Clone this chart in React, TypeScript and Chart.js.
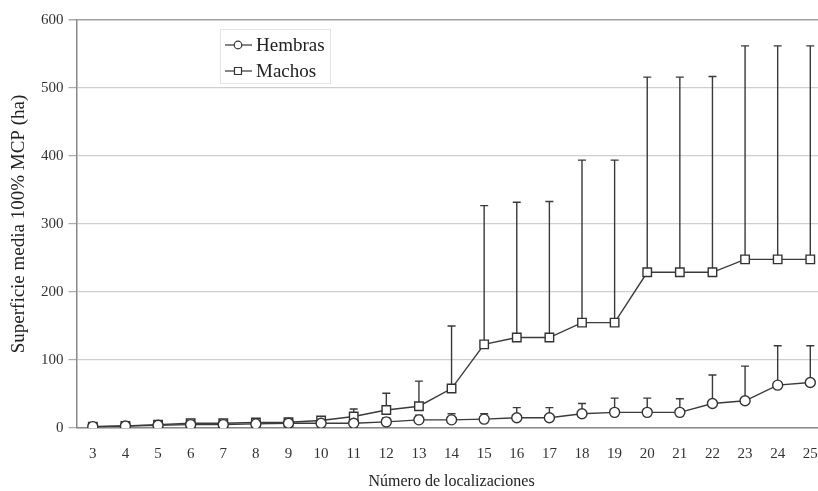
import React, { useEffect, useRef } from "react";
import { Chart, registerables } from "chart.js";

Chart.register(...registerables);

const categories = ["3","4","5","6","7","8","9","10","11","12","13","14","15","16","17","18","19","20","21","22","23","24","25"];
const hembrasMean = [2, 3, 4, 5, 5, 6, 7, 7, 7, 9, 12, 12, 13, 15, 15, 21, 23, 23, 23, 36, 40, 63, 67];
const hembrasUpper = [3, 4, 6, 8, 8, 9, 10, 10, 11, 15, 19, 21, 21, 30, 30, 36, 44, 44, 43, 78, 91, 121, 121];
const machosMean = [2, 3, 5, 7, 7, 8, 8.5, 11, 17, 26.5, 32, 58, 123, 133, 133, 155, 155, 229, 229, 229, 248, 248, 248];
const machosUpper = [3, 4, 7, 9, 9, 10, 11, 14, 28, 51, 69, 150, 327, 332, 333, 394, 394, 516, 516, 517, 562, 562, 562];
const seriesNames = ["Hembras", "Machos"];
const yTitle = "Superficie media 100% MCP (ha)";
const xTitle = "Número de localizaciones";

const FONT = "'Liberation Serif', 'DejaVu Serif', serif";

const errorBarPlugin = {
  id: "errorBars",
  beforeDatasetsDraw(chart: any) {
    const ctx = chart.ctx;
    const x = chart.scales.x;
    const y = chart.scales.y;
    const uppers = [hembrasUpper, machosUpper];
    const means = [hembrasMean, machosMean];
    ctx.save();
    ctx.strokeStyle = "#3a3a3a";
    ctx.lineWidth = 1.4;
    uppers.forEach((up, s) => {
      up.forEach((u, i) => {
        const px = x.getPixelForValue(i);
        const py0 = y.getPixelForValue(means[s][i]);
        const py1 = y.getPixelForValue(u);
        ctx.beginPath();
        ctx.moveTo(px, py0);
        ctx.lineTo(px, py1);
        ctx.moveTo(px - 4, py1);
        ctx.lineTo(px + 4, py1);
        ctx.stroke();
      });
    });
    ctx.restore();
  },
};

const legendPlugin = {
  id: "customLegend",
  afterDraw(chart: any) {
    const ctx = chart.ctx;
    const a = chart.chartArea;
    const bx = a.left + 143.5;
    const by = a.top + 9;
    ctx.save();
    ctx.fillStyle = "#ffffff";
    ctx.fillRect(bx, by, 110, 54);
    ctx.strokeStyle = "#e4e4e4";
    ctx.lineWidth = 1;
    ctx.strokeRect(bx + 0.5, by + 0.5, 110, 54);
    const styles = ["circle", "rect"];
    seriesNames.forEach((name, i) => {
      const cy = by + 16 + i * 26;
      const lx = bx + 5;
      ctx.strokeStyle = "#333";
      ctx.lineWidth = 1.2;
      ctx.beginPath();
      ctx.moveTo(lx, cy);
      ctx.lineTo(lx + 27, cy);
      ctx.stroke();
      ctx.fillStyle = "#fff";
      ctx.beginPath();
      if (styles[i] === "circle") {
        ctx.arc(lx + 13, cy, 3.8, 0, Math.PI * 2);
      } else {
        ctx.rect(lx + 9.5, cy - 3.5, 7, 7);
      }
      ctx.fill();
      ctx.stroke();
      ctx.fillStyle = "#222";
      ctx.font = "19px " + FONT;
      ctx.textBaseline = "middle";
      ctx.textAlign = "left";
      ctx.fillText(name, lx + 31, cy + 1);
    });
    ctx.restore();
  },
};

export default function App() {
  const ref = useRef<HTMLCanvasElement>(null);
  useEffect(() => {
    if (!ref.current) return;
    const chart = new Chart(ref.current, {
      type: "line",
      data: {
        labels: categories,
        datasets: [
          {
            label: seriesNames[0],
            data: hembrasMean,
            borderColor: "#3a3a3a",
            borderWidth: 1.4,
            pointStyle: "circle",
            pointRadius: 5,
            pointBackgroundColor: "#fff",
            pointBorderColor: "#333",
            pointBorderWidth: 1.4,
            tension: 0,
          },
          {
            label: seriesNames[1],
            data: machosMean,
            borderColor: "#3a3a3a",
            borderWidth: 1.4,
            pointStyle: "rect",
            pointRadius: 6,
            pointBackgroundColor: "#fff",
            pointBorderColor: "#333",
            pointBorderWidth: 1.4,
            tension: 0,
          },
        ],
      },
      options: {
        animation: false,
        responsive: false,
        layout: { padding: { top: 20, right: 6, left: 4, bottom: 0 } },
        plugins: {
          legend: { display: false },
          tooltip: { enabled: false },
        },
        scales: {
          x: {
            offset: true,
            grid: { display: false },
            border: { color: "#888", width: 1.5 },
            ticks: { color: "#333", font: { family: FONT, size: 15 }, padding: 9 },
            title: { display: true, text: xTitle, color: "#222", font: { family: FONT, size: 16 }, padding: { top: 4, bottom: 0 } },
            afterFit(scale: any) {
              scale.height = 63;
            },
          },
          y: {
            min: 0,
            max: 600,
            ticks: { stepSize: 100, color: "#333", font: { family: FONT, size: 15 }, padding: 5 },
            grid: {
              color: (c: any) => (c.tick && c.tick.value === 600 ? "#a0a0a0" : "#cfcfcf"),
              lineWidth: (c: any) => (c.tick && c.tick.value === 600 ? 1.5 : 1.2),
              tickLength: 8,
              tickColor: "#aaa",
            },
            border: { color: "#888", width: 1.5 },
            title: { display: true, text: yTitle, color: "#222", font: { family: FONT, size: 19 }, padding: { top: 4, bottom: 0 } },
            afterFit(scale: any) {
              scale.width = 72.5;
            },
          },
        },
      },
      plugins: [errorBarPlugin, legendPlugin],
    });
    return () => chart.destroy();
  }, []);
  return (
    <div style={{ position: "fixed", left: 0, top: 0, width: 818, height: 491, overflow: "hidden", background: "#fff" }}>
      <canvas ref={ref} width={834} height={491} style={{ display: "block" }} />
    </div>
  );
}
